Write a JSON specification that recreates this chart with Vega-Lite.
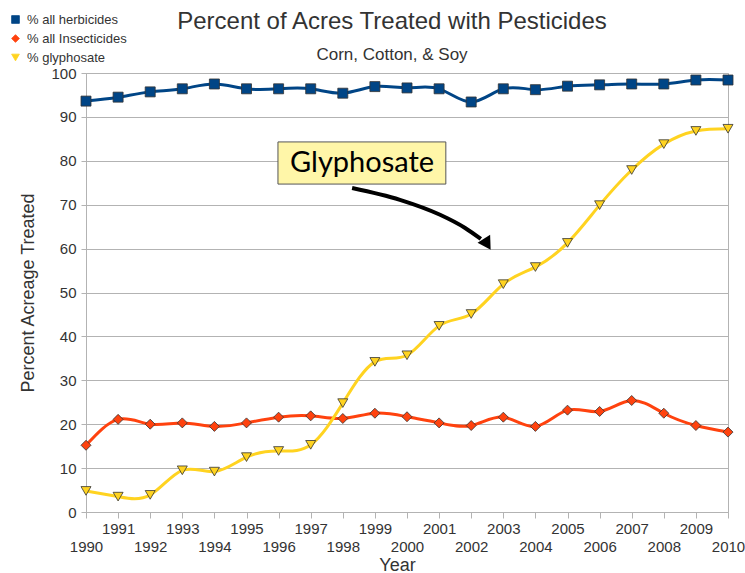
{
  "$schema": "https://vega.github.io/schema/vega-lite/v6.json",
  "width": 642,
  "height": 439,
  "autosize": "none",
  "padding": {"left": 86, "top": 73, "right": 17, "bottom": 61},
  "background": "white",
  "title": {
    "text": "Percent of Acres Treated with Pesticides",
    "subtitle": "Corn, Cotton, & Soy",
    "anchor": "middle",
    "frame": "group",
    "dx": -15,
    "font": "Liberation Sans",
    "fontSize": 24,
    "fontWeight": "normal",
    "color": "#333333",
    "subtitleFont": "Liberation Sans",
    "subtitleFontSize": 17,
    "subtitleColor": "#333333",
    "subtitlePadding": 13,
    "offset": -50
  },
  "config": {
    "font": "Liberation Sans",
    "view": {"stroke": "#b3b3b3"},
    "axis": {
      "labelFont": "Liberation Sans",
      "labelColor": "#333333",
      "labelFontSize": 15,
      "titleFont": "Liberation Sans",
      "titleFontWeight": "normal",
      "titleColor": "#333333",
      "titleFontSize": 18,
      "domainColor": "#b3b3b3",
      "tickColor": "#b3b3b3",
      "gridColor": "#b3b3b3"
    },
    "axisX": {"labelOverlap": false, "labelFlush": false}
  },
  "layer": [
    {
      "data": {"name": "series", "values": [
        {"year": 1990, "series": "% all herbicides", "value": 93.6},
        {"year": 1991, "series": "% all herbicides", "value": 94.5},
        {"year": 1992, "series": "% all herbicides", "value": 95.7},
        {"year": 1993, "series": "% all herbicides", "value": 96.4},
        {"year": 1994, "series": "% all herbicides", "value": 97.5},
        {"year": 1995, "series": "% all herbicides", "value": 96.4},
        {"year": 1996, "series": "% all herbicides", "value": 96.4},
        {"year": 1997, "series": "% all herbicides", "value": 96.4},
        {"year": 1998, "series": "% all herbicides", "value": 95.4},
        {"year": 1999, "series": "% all herbicides", "value": 96.9},
        {"year": 2000, "series": "% all herbicides", "value": 96.6},
        {"year": 2001, "series": "% all herbicides", "value": 96.4},
        {"year": 2002, "series": "% all herbicides", "value": 93.4},
        {"year": 2003, "series": "% all herbicides", "value": 96.4},
        {"year": 2004, "series": "% all herbicides", "value": 96.2},
        {"year": 2005, "series": "% all herbicides", "value": 97.0},
        {"year": 2006, "series": "% all herbicides", "value": 97.3},
        {"year": 2007, "series": "% all herbicides", "value": 97.5},
        {"year": 2008, "series": "% all herbicides", "value": 97.5},
        {"year": 2009, "series": "% all herbicides", "value": 98.4},
        {"year": 2010, "series": "% all herbicides", "value": 98.4},
        {"year": 1990, "series": "% all Insecticides", "value": 15.2},
        {"year": 1991, "series": "% all Insecticides", "value": 21.1},
        {"year": 1992, "series": "% all Insecticides", "value": 20.0},
        {"year": 1993, "series": "% all Insecticides", "value": 20.3},
        {"year": 1994, "series": "% all Insecticides", "value": 19.5},
        {"year": 1995, "series": "% all Insecticides", "value": 20.3},
        {"year": 1996, "series": "% all Insecticides", "value": 21.6},
        {"year": 1997, "series": "% all Insecticides", "value": 21.9},
        {"year": 1998, "series": "% all Insecticides", "value": 21.3},
        {"year": 1999, "series": "% all Insecticides", "value": 22.5},
        {"year": 2000, "series": "% all Insecticides", "value": 21.7},
        {"year": 2001, "series": "% all Insecticides", "value": 20.3},
        {"year": 2002, "series": "% all Insecticides", "value": 19.7},
        {"year": 2003, "series": "% all Insecticides", "value": 21.6},
        {"year": 2004, "series": "% all Insecticides", "value": 19.5},
        {"year": 2005, "series": "% all Insecticides", "value": 23.2},
        {"year": 2006, "series": "% all Insecticides", "value": 22.9},
        {"year": 2007, "series": "% all Insecticides", "value": 25.4},
        {"year": 2008, "series": "% all Insecticides", "value": 22.5},
        {"year": 2009, "series": "% all Insecticides", "value": 19.7},
        {"year": 2010, "series": "% all Insecticides", "value": 18.2},
        {"year": 1990, "series": "% glyphosate", "value": 4.8},
        {"year": 1991, "series": "% glyphosate", "value": 3.5},
        {"year": 1992, "series": "% glyphosate", "value": 3.9},
        {"year": 1993, "series": "% glyphosate", "value": 9.5},
        {"year": 1994, "series": "% glyphosate", "value": 9.2},
        {"year": 1995, "series": "% glyphosate", "value": 12.5},
        {"year": 1996, "series": "% glyphosate", "value": 13.9},
        {"year": 1997, "series": "% glyphosate", "value": 15.3},
        {"year": 1998, "series": "% glyphosate", "value": 24.8},
        {"year": 1999, "series": "% glyphosate", "value": 34.2},
        {"year": 2000, "series": "% glyphosate", "value": 35.7},
        {"year": 2001, "series": "% glyphosate", "value": 42.4},
        {"year": 2002, "series": "% glyphosate", "value": 45.1},
        {"year": 2003, "series": "% glyphosate", "value": 51.9},
        {"year": 2004, "series": "% glyphosate", "value": 55.8},
        {"year": 2005, "series": "% glyphosate", "value": 61.3},
        {"year": 2006, "series": "% glyphosate", "value": 69.9},
        {"year": 2007, "series": "% glyphosate", "value": 77.9},
        {"year": 2008, "series": "% glyphosate", "value": 83.8},
        {"year": 2009, "series": "% glyphosate", "value": 86.8},
        {"year": 2010, "series": "% glyphosate", "value": 87.3}
      ]},
      "encoding": {
        "x": {"field": "year", "type": "quantitative",
          "scale": {"domain": [1990, 2010], "nice": false, "zero": false},
          "axis": {
            "title": "Year",
            "values": [1990,1991,1992,1993,1994,1995,1996,1997,1998,1999,2000,2001,2002,2003,2004,2005,2006,2007,2008,2009,2010],
            "tickCount": 30,
            "format": "d",
            "labelOverlap": false,
            "labelFlush": false,
            "labelPadding": {"condition": {"test": "datum.value % 2 == 1", "value": 3}, "value": 21},
            "tickSize": 6,
            "grid": false,
            "titleX": 311,
            "titleY": 44,
            "titleBaseline": "top"
          }
        },
        "y": {"field": "value", "type": "quantitative",
          "scale": {"domain": [0, 100], "nice": false},
          "axis": {
            "title": "Percent Acreage Treated",
            "values": [0,10,20,30,40,50,60,70,80,90,100],
            "tickCount": 15,
            "tickSize": 5,
            "labelPadding": 5,
            "titlePadding": 13,
            "grid": true
          }
        },
        "color": {"field": "series", "type": "nominal",
          "scale": {"domain": ["% all herbicides", "% all Insecticides", "% glyphosate"], "range": ["#004586", "#ff420e", "#ffd320"]},
          "legend": {
            "title": null,
            "orient": "none",
            "legendX": -77,
            "legendY": -60,
            "padding": 0,
            "labelFont": "Liberation Sans",
            "labelFontSize": 13,
            "labelColor": "#333333",
            "symbolSize": 60,
            "symbolStrokeColor": "#333333",
            "symbolStrokeWidth": 0.8,
            "symbolOpacity": 1,
            "rowPadding": 5,
            "labelOffset": 5
          }
        }
      },
      "layer": [
        {
          "mark": {"type": "line", "interpolate": "natural", "strokeWidth": 3}
        },
        {
          "mark": {"type": "point", "filled": true, "size": 100, "stroke": "#333333", "strokeWidth": 0.8, "opacity": 1},
          "encoding": {
            "shape": {"field": "series", "type": "nominal",
              "scale": {"domain": ["% all herbicides", "% all Insecticides", "% glyphosate"], "range": ["square", "diamond", "triangle-down"]}
            }
          }
        }
      ]
    },
    {
      "data": {"values": [
        {"order": 1, "x": 1998.29, "y": 73.8},
        {"order": 2, "x": 1999.78, "y": 71.1},
        {"order": 3, "x": 2001.03, "y": 67.7},
        {"order": 4, "x": 2001.81, "y": 64.7},
        {"order": 5, "x": 2002.3, "y": 62.2}
      ]},
      "mark": {"type": "line", "interpolate": "monotone", "color": "black", "strokeWidth": 4},
      "encoding": {
        "x": {"field": "x", "type": "quantitative"},
        "y": {"field": "y", "type": "quantitative"},
        "order": {"field": "order"}
      }
    },
    {
      "data": {"values": [{"x": 2002.5, "y": 61.0}]},
      "mark": {"type": "point", "shape": "triangle-down", "filled": true, "color": "black", "size": 220, "angle": -32, "opacity": 1},
      "encoding": {
        "x": {"field": "x", "type": "quantitative"},
        "y": {"field": "y", "type": "quantitative"}
      }
    },
    {
      "data": {"values": [{"x1": 1995.98, "x2": 2001.21, "y1": 74.7, "y2": 84.3, "xm": 1998.6, "ym": 79.5, "label": "Glyphosate"}]},
      "layer": [
        {
          "mark": {"type": "rect", "fill": "#fff6a8", "stroke": "#555555", "strokeWidth": 1},
          "encoding": {
            "x": {"field": "x1", "type": "quantitative"},
            "x2": {"field": "x2"},
            "y": {"field": "y1", "type": "quantitative"},
            "y2": {"field": "y2"}
          }
        },
        {
          "mark": {"type": "text", "font": "Lato", "fontSize": 29, "color": "black", "align": "center", "baseline": "middle"},
          "encoding": {
            "x": {"field": "xm", "type": "quantitative"},
            "y": {"field": "ym", "type": "quantitative"},
            "text": {"field": "label"}
          }
        }
      ]
    }
  ]
}
